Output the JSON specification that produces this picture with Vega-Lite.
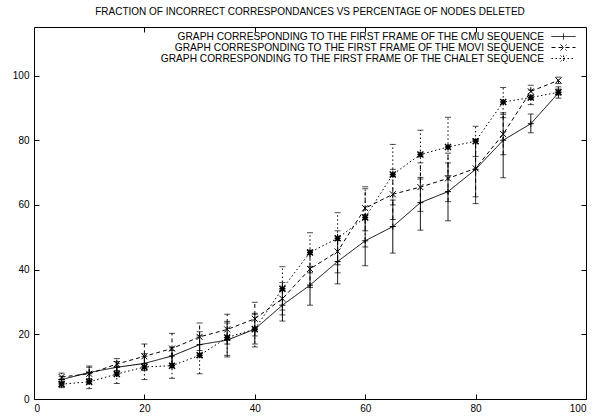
{
  "$schema": "https://vega.github.io/schema/vega-lite/v6.json",
  "width": 552,
  "height": 372,
  "autosize": "none",
  "padding": {"left": 34, "top": 27, "right": 13, "bottom": 17},
  "background": "white",
  "title": {"text": "FRACTION OF INCORRECT CORRESPONDANCES VS PERCENTAGE OF NODES DELETED", "font": "Liberation Sans", "fontSize": 10, "fontWeight": "normal", "color": "black", "offset": 10},
  "config": {
    "view": {"stroke": "black", "strokeWidth": 1},
    "font": "Liberation Sans",
    "axis": {"domain": false, "grid": false, "ticks": true, "tickSize": -5, "tickColor": "black", "tickWidth": 1, "labelFont": "Liberation Sans", "labelFontSize": 10, "labelColor": "black", "title": null, "zindex": 1}
  },
  "data": {"values": [
    {"s": "CMU", "x": 5, "y": 6.0, "lo": 5.0, "hi": 7.0},
    {"s": "CMU", "x": 10, "y": 8.2, "lo": 6.3, "hi": 10.2},
    {"s": "CMU", "x": 15, "y": 9.8, "lo": 8.3, "hi": 11.6},
    {"s": "CMU", "x": 20, "y": 11.0, "lo": 8.8, "hi": 13.2},
    {"s": "CMU", "x": 25, "y": 13.3, "lo": 10.8, "hi": 16.0},
    {"s": "CMU", "x": 30, "y": 16.8, "lo": 13.0, "hi": 20.8},
    {"s": "CMU", "x": 35, "y": 18.2, "lo": 13.5, "hi": 23.5},
    {"s": "CMU", "x": 40, "y": 21.6, "lo": 17.0, "hi": 26.2},
    {"s": "CMU", "x": 45, "y": 29.0, "lo": 24.1, "hi": 33.5},
    {"s": "CMU", "x": 50, "y": 35.2, "lo": 29.0, "hi": 41.0},
    {"s": "CMU", "x": 55, "y": 42.5, "lo": 35.6, "hi": 49.0},
    {"s": "CMU", "x": 60, "y": 48.9, "lo": 41.2, "hi": 57.0},
    {"s": "CMU", "x": 65, "y": 53.3, "lo": 45.1, "hi": 61.5},
    {"s": "CMU", "x": 70, "y": 60.7, "lo": 52.2, "hi": 68.5},
    {"s": "CMU", "x": 75, "y": 64.1, "lo": 55.1, "hi": 73.0},
    {"s": "CMU", "x": 80, "y": 71.0, "lo": 60.4, "hi": 80.2},
    {"s": "CMU", "x": 85, "y": 80.0, "lo": 68.4, "hi": 88.5},
    {"s": "CMU", "x": 90, "y": 85.1, "lo": 82.3, "hi": 88.1},
    {"s": "CMU", "x": 95, "y": 94.6, "lo": 93.0, "hi": 96.5},
    {"s": "MOVI", "x": 5, "y": 6.8, "lo": 5.5, "hi": 8.0},
    {"s": "MOVI", "x": 10, "y": 7.8, "lo": 5.8, "hi": 9.8},
    {"s": "MOVI", "x": 15, "y": 10.8, "lo": 8.8, "hi": 12.5},
    {"s": "MOVI", "x": 20, "y": 13.2, "lo": 9.5, "hi": 17.0},
    {"s": "MOVI", "x": 25, "y": 15.6, "lo": 11.0, "hi": 20.3},
    {"s": "MOVI", "x": 30, "y": 19.2, "lo": 15.0, "hi": 23.5},
    {"s": "MOVI", "x": 35, "y": 21.5, "lo": 17.0, "hi": 26.2},
    {"s": "MOVI", "x": 40, "y": 24.8, "lo": 19.5, "hi": 29.9},
    {"s": "MOVI", "x": 45, "y": 31.0, "lo": 26.0, "hi": 36.0},
    {"s": "MOVI", "x": 50, "y": 40.2, "lo": 34.5, "hi": 46.0},
    {"s": "MOVI", "x": 55, "y": 45.6, "lo": 39.0, "hi": 52.0},
    {"s": "MOVI", "x": 60, "y": 59.0, "lo": 52.0, "hi": 65.0},
    {"s": "MOVI", "x": 65, "y": 63.3, "lo": 55.5, "hi": 71.0},
    {"s": "MOVI", "x": 70, "y": 65.5, "lo": 58.0, "hi": 73.0},
    {"s": "MOVI", "x": 75, "y": 68.2, "lo": 61.0, "hi": 76.0},
    {"s": "MOVI", "x": 80, "y": 71.3, "lo": 62.5, "hi": 80.0},
    {"s": "MOVI", "x": 85, "y": 81.9, "lo": 75.5, "hi": 88.0},
    {"s": "MOVI", "x": 90, "y": 95.1, "lo": 93.0, "hi": 97.0},
    {"s": "MOVI", "x": 95, "y": 98.5, "lo": 97.5, "hi": 99.5},
    {"s": "CHALET", "x": 5, "y": 4.6, "lo": 3.5, "hi": 6.0},
    {"s": "CHALET", "x": 10, "y": 5.3, "lo": 3.2, "hi": 7.8},
    {"s": "CHALET", "x": 15, "y": 7.7, "lo": 4.8, "hi": 10.0},
    {"s": "CHALET", "x": 20, "y": 9.9, "lo": 6.0, "hi": 14.0},
    {"s": "CHALET", "x": 25, "y": 10.3, "lo": 6.4, "hi": 15.0},
    {"s": "CHALET", "x": 30, "y": 13.5, "lo": 7.8, "hi": 19.5},
    {"s": "CHALET", "x": 35, "y": 19.0, "lo": 13.0, "hi": 24.0},
    {"s": "CHALET", "x": 40, "y": 21.6, "lo": 16.1, "hi": 26.5},
    {"s": "CHALET", "x": 45, "y": 34.1, "lo": 27.5, "hi": 40.9},
    {"s": "CHALET", "x": 50, "y": 45.3, "lo": 39.0, "hi": 51.4},
    {"s": "CHALET", "x": 55, "y": 49.7, "lo": 41.5, "hi": 57.6},
    {"s": "CHALET", "x": 60, "y": 56.1, "lo": 47.0, "hi": 65.6},
    {"s": "CHALET", "x": 65, "y": 69.4, "lo": 60.0, "hi": 78.7},
    {"s": "CHALET", "x": 70, "y": 75.6, "lo": 68.0, "hi": 83.1},
    {"s": "CHALET", "x": 75, "y": 77.9, "lo": 69.0, "hi": 87.1},
    {"s": "CHALET", "x": 80, "y": 79.7, "lo": 75.0, "hi": 84.3},
    {"s": "CHALET", "x": 85, "y": 91.8, "lo": 87.0, "hi": 96.3},
    {"s": "CHALET", "x": 90, "y": 93.2, "lo": 91.0, "hi": 95.5},
    {"s": "CHALET", "x": 95, "y": 94.8, "lo": 94.0, "hi": 95.8}
  ]},
  "layer": [
    {
      "mark": {"type": "line", "color": "black", "strokeWidth": 1},
      "encoding": {
        "x": {"field": "x", "type": "quantitative", "scale": {"domain": [0, 100], "nice": false}, "axis": {"orient": "bottom", "values": [0, 20, 40, 60, 80, 100], "labelPadding": 9}},
        "y": {"field": "y", "type": "quantitative", "scale": {"domain": [0, 115], "nice": false}, "axis": {"orient": "left", "values": [0, 20, 40, 60, 80, 100], "labelPadding": 10}},
        "strokeDash": {"field": "s", "type": "nominal", "scale": {"domain": ["CMU", "MOVI", "CHALET"], "range": [[1, 0], [4, 3], [1.5, 2.5]]}, "legend": {
          "orient": "none", "legendX": 524, "legendY": 4, "title": null, "padding": 0,
          "labelAlign": "right", "labelOffset": -25, "labelLimit": 600,
          "labelFont": "Liberation Sans", "labelFontSize": 10.2, "labelColor": "black",
          "labelExpr": "'GRAPH CORRESPONDING TO THE FIRST FRAME OF THE ' + datum.label + ' SEQUENCE'",
          "symbolSize": 100, "symbolType": "M-2.4,0L2.4,0", "symbolStrokeWidth": 1, "symbolStrokeColor": "black", "symbolFillColor": "transparent",
          "rowPadding": 0,
          "encode": {"symbols": {"update": {"shape": {"signal": "datum.value === 'CMU' ? 'M-2.4,0L2.4,0M0,-0.6L0,0.6' : datum.value === 'MOVI' ? 'M-2.4,0L2.4,0M-0.6,-0.6L0.6,0.6M-0.6,0.6L0.6,-0.6' : 'M-2.4,0L2.4,0M0,-0.6L0,0.6M-0.6,-0.6L0.6,0.6M-0.6,0.6L0.6,-0.6'"}}}}
        }}
      }
    },
    {
      "mark": {"type": "rule", "color": "black", "strokeWidth": 1},
      "encoding": {
        "x": {"field": "x", "type": "quantitative", "axis": null},
        "y": {"field": "lo", "type": "quantitative", "axis": null},
        "y2": {"field": "hi"},
        "strokeDash": {"field": "s", "type": "nominal"}
      }
    },
    {
      "mark": {"type": "tick", "orient": "horizontal", "color": "black", "size": 6, "thickness": 1},
      "encoding": {
        "x": {"field": "x", "type": "quantitative", "axis": {"orient": "top", "labels": true, "tickSize": -5, "labelFontSize": 1, "labelColor": "transparent", "labelPadding": 0, "values": [20, 40, 60, 80]}},
        "y": {"field": "lo", "type": "quantitative", "axis": {"orient": "right", "labels": true, "tickSize": -5, "labelFontSize": 1, "labelColor": "transparent", "labelPadding": 0, "values": [20, 40, 60, 80, 100]}}
      }
    },
    {
      "mark": {"type": "tick", "orient": "horizontal", "color": "black", "size": 6, "thickness": 1},
      "encoding": {
        "x": {"field": "x", "type": "quantitative", "axis": null},
        "y": {"field": "hi", "type": "quantitative", "axis": null}
      }
    },
    {
      "transform": [{"filter": "datum.s === 'CMU'"}],
      "mark": {"type": "point", "filled": false, "color": "black", "strokeWidth": 1, "size": 36, "opacity": 1, "shape": "M-1,0L1,0M0,-1L0,1"},
      "encoding": {
        "x": {"field": "x", "type": "quantitative", "axis": null},
        "y": {"field": "y", "type": "quantitative", "axis": null}
      }
    },
    {
      "transform": [{"filter": "datum.s === 'MOVI'"}],
      "mark": {"type": "point", "filled": false, "color": "black", "strokeWidth": 1, "size": 36, "opacity": 1, "shape": "M-1,-1L1,1M-1,1L1,-1"},
      "encoding": {
        "x": {"field": "x", "type": "quantitative", "axis": null},
        "y": {"field": "y", "type": "quantitative", "axis": null}
      }
    },
    {
      "transform": [{"filter": "datum.s === 'CHALET'"}],
      "mark": {"type": "point", "filled": false, "color": "black", "strokeWidth": 1.5, "size": 36, "opacity": 1, "shape": "M-1,0L1,0M0,-1L0,1M-1,-1L1,1M-1,1L1,-1"},
      "encoding": {
        "x": {"field": "x", "type": "quantitative", "axis": null},
        "y": {"field": "y", "type": "quantitative", "axis": null}
      }
    }
  ],
  "resolve": {"axis": {"x": "independent", "y": "independent"}}
}
